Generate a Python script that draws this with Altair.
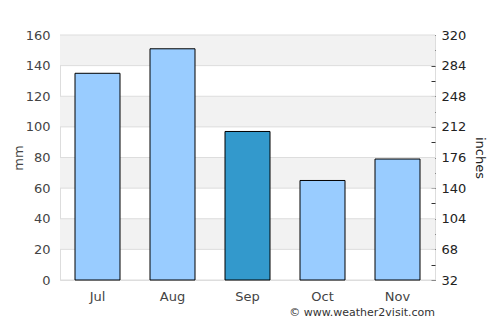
import altair as alt
import pandas as pd

months = ["Jul", "Aug", "Sep", "Oct", "Nov"]
rain_mm = [135, 151, 97, 65, 79]
highlight = [False, False, True, False, False]
band_lo = [20, 60, 100, 140]
band_hi = [40, 80, 120, 160]
grid_vals = [0, 20, 40, 60, 80, 100, 120, 140, 160]
right_ticks = [32, 50, 68, 86, 104, 122, 140, 158, 176, 194, 212, 230, 248, 266, 284, 302, 320]

df = pd.DataFrame({"month": months, "mm": rain_mm, "hl": highlight})
bands = pd.DataFrame({"lo": band_lo, "hi": band_hi})
grid_df = pd.DataFrame({"g": grid_vals})

FONT = "DejaVu Sans"
yscale = alt.Scale(domain=[0, 160], nice=False)

left_axis = alt.Axis(title="mm", values=grid_vals, ticks=False, domain=False,
                     grid=False, labelPadding=10,
                     labelFont=FONT, labelFontSize=13, labelColor="#444444",
                     titleFont=FONT, titleFontSize=13, titleFontWeight="normal",
                     titleColor="#444444", titlePadding=0)

band_layer = alt.Chart(bands).mark_rect(color="#f2f2f2").encode(
    y=alt.Y("lo:Q", scale=yscale, axis=left_axis, title="mm"),
    y2="hi:Q",
)

grid_layer = alt.Chart(grid_df).mark_rule(color="#dddddd", strokeWidth=1).encode(
    y=alt.Y("g:Q", scale=yscale, axis=left_axis, title="mm"),
)

bars = alt.Chart(df).mark_bar(stroke="black", strokeWidth=1).encode(
    x=alt.X("month:N", sort=months, title=None,
            scale=alt.Scale(paddingInner=0.4, paddingOuter=0.2),
            axis=alt.Axis(labelAngle=0, ticks=False, domain=False, labelPadding=10,
                          labelFont=FONT, labelFontSize=13, labelColor="#444444")),
    y=alt.Y("mm:Q", scale=yscale, axis=left_axis, title="mm"),
    color=alt.Color("hl:N", scale=alt.Scale(domain=[False, True], range=["#99ccff", "#3399cc"]), legend=None),
)

right = alt.Chart(df).mark_point(opacity=0).encode(
    y=alt.Y("mm:Q", scale=alt.Scale(domain=[32, 320], nice=False),
            axis=alt.Axis(orient="right", title="inches", values=right_ticks,
                          labelExpr="(datum.value - 32) % 36 == 0 ? datum.label : ''",
                          grid=False, domain=False, ticks=True, tickSize=4, offset=-4,
                          tickColor="#333333", labelPadding=6,
                          labelFont=FONT, labelFontSize=13, labelColor="#222222",
                          titleFont=FONT, titleFontSize=13, titleFontWeight="normal",
                          titleColor="#222222", titlePadding=7)),
)

footer = alt.Chart(pd.DataFrame({"t": ["© www.weather2visit.com"]})).mark_text(
    align="right", baseline="middle", font=FONT, fontSize=11, color="#333333"
).encode(x=alt.value(375), y=alt.value(278), text="t:N")

left_layers = alt.layer(band_layer, grid_layer, bars)
chart = alt.layer(left_layers, right, footer).resolve_scale(y="independent").properties(
    width=375, height=245,
    padding={"left": 60, "top": 35, "right": 65, "bottom": 45},
    autosize=alt.AutoSizeParams(type="none"),
).configure_view(stroke="#dddddd", strokeWidth=1).configure(background="white")

chart.save("out.html", embed_options={"renderer": "svg", "actions": False})
